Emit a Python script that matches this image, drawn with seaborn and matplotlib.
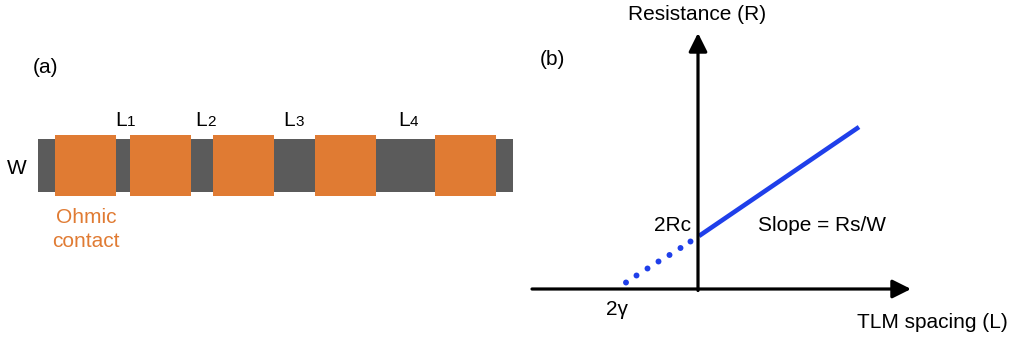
import numpy as np
import pandas as pd
import matplotlib
matplotlib.use("Agg")
import matplotlib.pyplot as plt
import seaborn as sns

# ── DATA ────────────────────────────────────────────────────────────
# (a) TLM pattern, pixel-like layout units
strip_x = [38]
strip_len = [475]
pad_left = [55, 130, 213, 315, 435]
pad_width = [61, 61, 61, 61, 61]
gap_labels = ["1", "2", "3", "4"]

# (b) R vs L, arbitrary units (origin = axis crossing)
spacing = [0.02, 3.22]
resistance = [1.06, 3.24]
extrap_L = [-1.44, -1.23, -1.01, -0.79, -0.57, -0.35, -0.15]
extrap_R = [0.13, 0.27, 0.41, 0.55, 0.68, 0.82, 0.95]

ORANGE = "#E07B33"
GREY = "#5B5B5B"
BLUE = "#1F3FEA"

sns.set_theme(style="white")
plt.rcParams["font.family"] = ["Liberation Sans", "DejaVu Sans"]
plt.rcParams["text.color"] = "black"

fig = plt.figure(figsize=(10.11, 3.38), dpi=100)
ax_a = fig.add_axes([0, 0, 520 / 1011, 1])
ax_b = fig.add_axes([520 / 1011, 0, 491 / 1011, 1])
FS = 15

# ── PANEL (a) ───────────────────────────────────────────────────────
ax_a.set_xlim(0, 520)
ax_a.set_ylim(338, 0)
ax_a.axis("off")

ax_a.bar(strip_x, [53], width=strip_len, bottom=139, align="edge",
         color=GREY, edgecolor="none")
ax_a.bar(pad_left, [61] * len(pad_left), width=pad_width, bottom=135,
         align="edge", color=ORANGE, edgecolor="none")

# gap labels L1..L4, placed over each gap
l_pos = [115, 195, 283, 398]
for x, d in zip(l_pos, gap_labels):
    ax_a.text(x, 126, "L", fontsize=FS, ha="left", va="baseline")
    ax_a.text(x + 12, 126, d, fontsize=11, ha="left", va="baseline")

ax_a.text(17, 174, "W", fontsize=FS, ha="center", va="baseline")
ax_a.text(46, 73, "(a)", fontsize=FS, ha="center", va="baseline")
ax_a.text(86, 223, "Ohmic", fontsize=FS, ha="center", va="baseline",
          color=ORANGE)
ax_a.text(86, 247, "contact", fontsize=FS, ha="center", va="baseline",
          color=ORANGE)

# ── PANEL (b) ───────────────────────────────────────────────────────
ax_b.set_xlim(-3.56, 6.26)
ax_b.set_ylim(-0.98, 5.78)
ax_b.axis("off")

arrow = dict(arrowstyle="-|>,head_length=0.8,head_width=0.4",
             lw=2.3, color="black", mutation_scale=14,
             shrinkA=0, shrinkB=0)
ax_b.annotate("", xy=(4.26, 0), xytext=(-3.32, 0), arrowprops=arrow)
ax_b.annotate("", xy=(0, 5.12), xytext=(0, -0.03), arrowprops=arrow)

sns.lineplot(x=spacing, y=resistance, color=BLUE, linewidth=3.3,
             ax=ax_b, solid_capstyle="butt")
sns.scatterplot(x=extrap_L, y=extrap_R, color=BLUE, s=18,
                edgecolor="none", ax=ax_b)

ax_b.text(-0.01, 5.37, "Resistance (R)", fontsize=FS, ha="center",
          va="baseline")
ax_b.text(-2.92, 4.48, "(b)", fontsize=FS, ha="center", va="baseline")
ax_b.text(-0.14, 1.16, "2Rc", fontsize=FS, ha="right", va="baseline")
ax_b.text(1.20, 1.16, "Slope = Rs/W", fontsize=FS, ha="left",
          va="baseline")
ax_b.text(-1.62, -0.52, "2γ", fontsize=FS, ha="center", va="baseline")
ax_b.text(6.20, -0.78, "TLM spacing (L)", fontsize=FS, ha="right",
          va="baseline")

fig.savefig("out.png", dpi=100)
